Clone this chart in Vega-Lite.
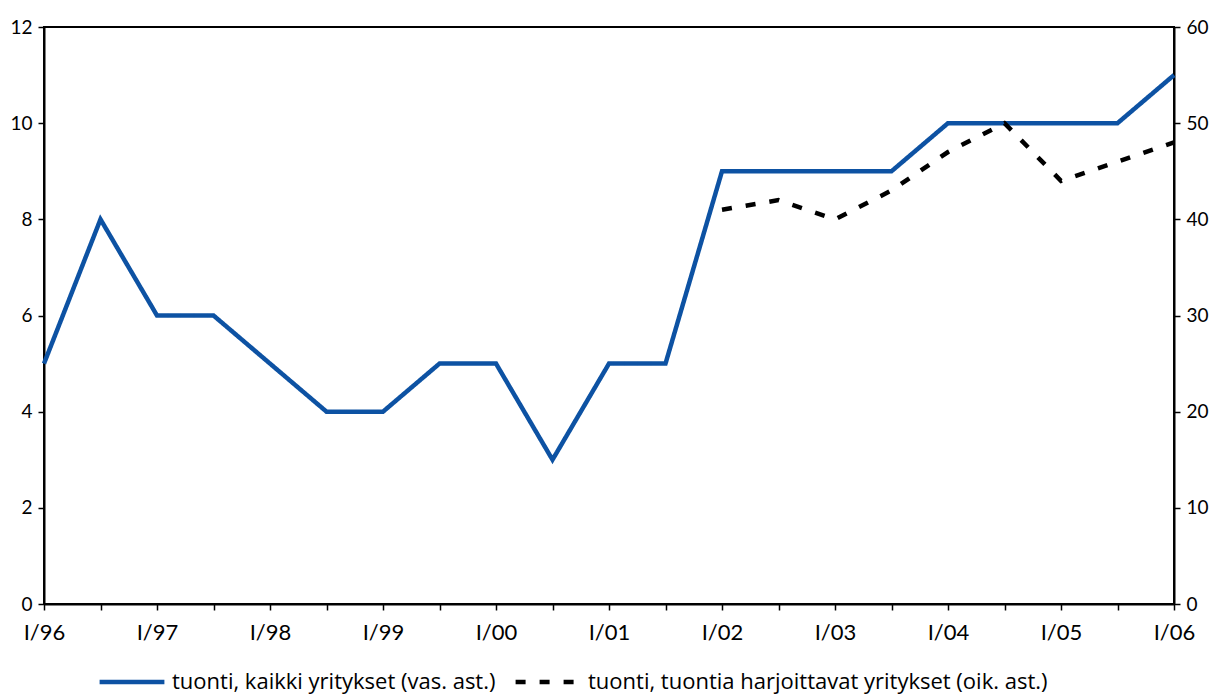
{
  "$schema": "https://vega.github.io/schema/vega-lite/v6.json",
  "width": 1130,
  "height": 577,
  "autosize": {"type": "none"},
  "padding": {"left": 44, "top": 27, "right": 51, "bottom": 93},
  "background": "white",
  "config": {
    "view": {"stroke": "black", "strokeWidth": 2},
    "axis": {
      "grid": false,
      "domainColor": "black",
      "domainWidth": 2,
      "tickColor": "black",
      "tickWidth": 1.5,
      "tickSize": 6,
      "labelColor": "black",
      "labelFont": "Lato",
      "labelFontSize": 19,
      "title": null
    },
    "legend": {"labelFont": "Open Sans", "labelFontSize": 22, "labelColor": "black", "labelLimit": 0}
  },
  "data": {
    "values": [
      {"period": "I/96", "series": "tuonti, kaikki yritykset (vas. ast.)", "value": 5},
      {"period": "II/96", "series": "tuonti, kaikki yritykset (vas. ast.)", "value": 8},
      {"period": "I/97", "series": "tuonti, kaikki yritykset (vas. ast.)", "value": 6},
      {"period": "II/97", "series": "tuonti, kaikki yritykset (vas. ast.)", "value": 6},
      {"period": "I/98", "series": "tuonti, kaikki yritykset (vas. ast.)", "value": 5},
      {"period": "II/98", "series": "tuonti, kaikki yritykset (vas. ast.)", "value": 4},
      {"period": "I/99", "series": "tuonti, kaikki yritykset (vas. ast.)", "value": 4},
      {"period": "II/99", "series": "tuonti, kaikki yritykset (vas. ast.)", "value": 5},
      {"period": "I/00", "series": "tuonti, kaikki yritykset (vas. ast.)", "value": 5},
      {"period": "II/00", "series": "tuonti, kaikki yritykset (vas. ast.)", "value": 3},
      {"period": "I/01", "series": "tuonti, kaikki yritykset (vas. ast.)", "value": 5},
      {"period": "II/01", "series": "tuonti, kaikki yritykset (vas. ast.)", "value": 5},
      {"period": "I/02", "series": "tuonti, kaikki yritykset (vas. ast.)", "value": 9},
      {"period": "II/02", "series": "tuonti, kaikki yritykset (vas. ast.)", "value": 9},
      {"period": "I/03", "series": "tuonti, kaikki yritykset (vas. ast.)", "value": 9},
      {"period": "II/03", "series": "tuonti, kaikki yritykset (vas. ast.)", "value": 9},
      {"period": "I/04", "series": "tuonti, kaikki yritykset (vas. ast.)", "value": 10},
      {"period": "II/04", "series": "tuonti, kaikki yritykset (vas. ast.)", "value": 10},
      {"period": "I/05", "series": "tuonti, kaikki yritykset (vas. ast.)", "value": 10},
      {"period": "II/05", "series": "tuonti, kaikki yritykset (vas. ast.)", "value": 10},
      {"period": "I/06", "series": "tuonti, kaikki yritykset (vas. ast.)", "value": 11},
      {"period": "I/02", "series": "tuonti, tuontia harjoittavat yritykset (oik. ast.)", "value": 41},
      {"period": "II/02", "series": "tuonti, tuontia harjoittavat yritykset (oik. ast.)", "value": 42},
      {"period": "I/03", "series": "tuonti, tuontia harjoittavat yritykset (oik. ast.)", "value": 40},
      {"period": "II/03", "series": "tuonti, tuontia harjoittavat yritykset (oik. ast.)", "value": 43},
      {"period": "I/04", "series": "tuonti, tuontia harjoittavat yritykset (oik. ast.)", "value": 47},
      {"period": "II/04", "series": "tuonti, tuontia harjoittavat yritykset (oik. ast.)", "value": 50},
      {"period": "I/05", "series": "tuonti, tuontia harjoittavat yritykset (oik. ast.)", "value": 44},
      {"period": "II/05", "series": "tuonti, tuontia harjoittavat yritykset (oik. ast.)", "value": 46},
      {"period": "I/06", "series": "tuonti, tuontia harjoittavat yritykset (oik. ast.)", "value": 48}
    ]
  },
  "encoding": {
    "x": {
      "field": "period",
      "type": "ordinal",
      "scale": {
        "type": "point",
        "padding": 0,
        "domain": ["I/96","II/96","I/97","II/97","I/98","II/98","I/99","II/99","I/00","II/00","I/01","II/01","I/02","II/02","I/03","II/03","I/04","II/04","I/05","II/05","I/06"]
      },
      "axis": {
        "labelAngle": 0,
        "labelPadding": 12,
        "labelFontSize": 22,
        "labelExpr": "indexof(datum.value, 'II') == 0 ? '' : datum.value"
      }
    },
    "color": {
      "field": "series",
      "type": "nominal",
      "scale": {
        "domain": ["tuonti, kaikki yritykset (vas. ast.)", "tuonti, tuontia harjoittavat yritykset (oik. ast.)"],
        "range": ["#0d52a3", "black"]
      },
      "legend": {
        "orient": "none",
        "legendX": 53,
        "legendY": 620,
        "direction": "horizontal",
        "title": null,
        "symbolType": "stroke",
        "symbolSize": 4200,
        "symbolStrokeWidth": 4.5,
        "labelOffset": 5,
        "columnPadding": 10
      }
    },
    "strokeDash": {
      "field": "series",
      "type": "nominal",
      "scale": {
        "domain": ["tuonti, kaikki yritykset (vas. ast.)", "tuonti, tuontia harjoittavat yritykset (oik. ast.)"],
        "range": [[1, 0], [10, 14]]
      },
      "legend": {
        "orient": "none",
        "legendX": 53,
        "legendY": 620,
        "direction": "horizontal",
        "title": null,
        "symbolType": "stroke",
        "symbolSize": 4200,
        "symbolStrokeWidth": 4.5,
        "labelOffset": 5,
        "columnPadding": 10
      }
    }
  },
  "layer": [
    {
      "transform": [{"filter": "datum.series == 'tuonti, kaikki yritykset (vas. ast.)'"}],
      "mark": {"type": "line", "strokeWidth": 4.5},
      "encoding": {
        "y": {
          "field": "value",
          "type": "quantitative",
          "scale": {"domain": [0, 12], "nice": false},
          "axis": {"values": [0, 2, 4, 6, 8, 10, 12], "orient": "left", "labelPadding": 6}
        }
      }
    },
    {
      "transform": [{"filter": "datum.series == 'tuonti, tuontia harjoittavat yritykset (oik. ast.)'"}],
      "mark": {"type": "line", "strokeWidth": 4.5},
      "encoding": {
        "y": {
          "field": "value",
          "type": "quantitative",
          "scale": {"domain": [0, 60], "nice": false},
          "axis": {"values": [0, 10, 20, 30, 40, 50, 60], "orient": "right", "labelPadding": 6}
        }
      }
    }
  ],
  "resolve": {"scale": {"y": "independent"}}
}
